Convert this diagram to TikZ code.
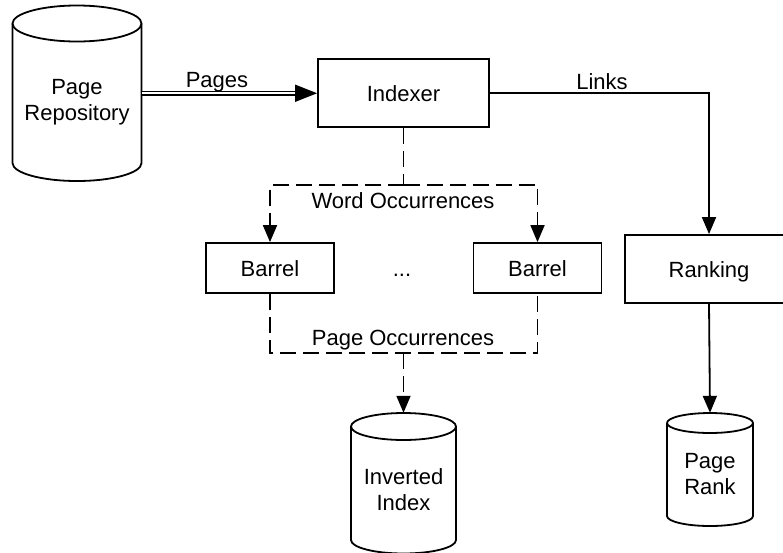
\documentclass[tikz,border=0pt]{standalone}
\usepackage{fontspec}
\setmainfont{Liberation Sans}
\usetikzlibrary{arrows.meta}

% Database cylinder: #1 name, #2 centre x, #3 y of top ellipse centre,
% #4 y of bottom arc centre, #5 x radius, #6 y radius, #7 label
\newcommand{\datastore}[7]{%
  \draw[stroke]
    ({#2-#5},#3) -- ({#2-#5},#4)
    .. controls ({#2-#5},{#4+0.5523*#6}) and ({#2-0.5523*#5},{#4+#6}) .. ({#2},{#4+#6})
    .. controls ({#2+0.5523*#5},{#4+#6}) and ({#2+#5},{#4+0.5523*#6}) .. ({#2+#5},#4)
    -- ({#2+#5},#3);
  \draw[stroke] (#2,#3) ellipse[x radius=#5pt, y radius=#6pt];
  \node[inner sep=0pt, minimum width={2*#5pt}, minimum height={(#4-#3+2*#6)*1pt}]
    (#1) at ({#2},{(#3+#4)/2}) {};
  \node[align=center] (#1-text) at ({#2},{(#3+#6+#4)/2}) {#7};
}

\begin{document}
\begin{tikzpicture}[x=1pt, y=-1pt,
  every node/.style={font=\fontsize{22}{26}\selectfont},
  stroke/.style={line width=1.8pt},
  box/.style={draw, stroke, inner sep=0pt, text height=16pt, text depth=0pt},
  tip/.style={-{Triangle[length=17pt,width=14pt]}},
  flow/.style={stroke, tip},
  flowdash/.style={stroke, dash pattern=on 16pt off 7pt},
  pageflow/.style={line width=1.5pt, double, double distance=2.2pt,
                   -{Triangle[length=22pt,width=17pt]}},
  lbl/.style={anchor=base, inner sep=0pt}
]
\useasboundingbox (0,0) rectangle (783,552);

% stores
\datastore{repo}{77}{23.5}{163}{64.5}{18}{Page\\Repository}
\datastore{invidx}{403.5}{426.5}{540}{52.5}{13.5}{Inverted\\Index}
\datastore{prank}{710}{423}{516}{43}{10}{Page\\Rank}

% processing boxes
\node[box, minimum width=171pt, minimum height=68pt] (indexer) at (403.5,93) {Indexer};
\node[box, minimum width=168pt, minimum height=68pt] (ranking) at (709,269) {Ranking};
\node[box, minimum width=128pt, minimum height=50pt] (barrelL) at (270,268) {Barrel};
\node[box, minimum width=128pt, minimum height=50pt] (barrelR) at (537.5,268) {Barrel};
\node[lbl] (dots) at (402,276) {...};

% pages into the indexer
\draw[pageflow] (repo.east) -- (repo.east -| indexer.west);
\node[lbl] (lblpages) at (217,87) {Pages};

% links to ranking, ranking to page rank
\draw[flow] (indexer.east) -| (ranking.north);
\node[lbl] (lbllinks) at (602,89) {Links};
\draw[flow] (ranking.south) -- (prank.north);

% word occurrences fan out to the barrels
\coordinate (wsplit) at (403.5,185);
\draw[flowdash] (indexer.south) -- (wsplit);
\draw[flowdash, tip] (wsplit) -| (barrelL.north);
\draw[flowdash, tip] (wsplit) -| (barrelR.north);
\node[lbl] (lblword) at (403,208) {Word Occurrences};

% page occurrences gathered into the inverted index
\coordinate (psplit) at (403.5,353);
\draw[flowdash] (barrelL.south) |- (psplit) -| (barrelR.south);
\draw[flowdash, tip] (psplit) -- (invidx.north);
\node[lbl] (lblpage) at (403,345) {Page Occurrences};
\end{tikzpicture}
\end{document}
